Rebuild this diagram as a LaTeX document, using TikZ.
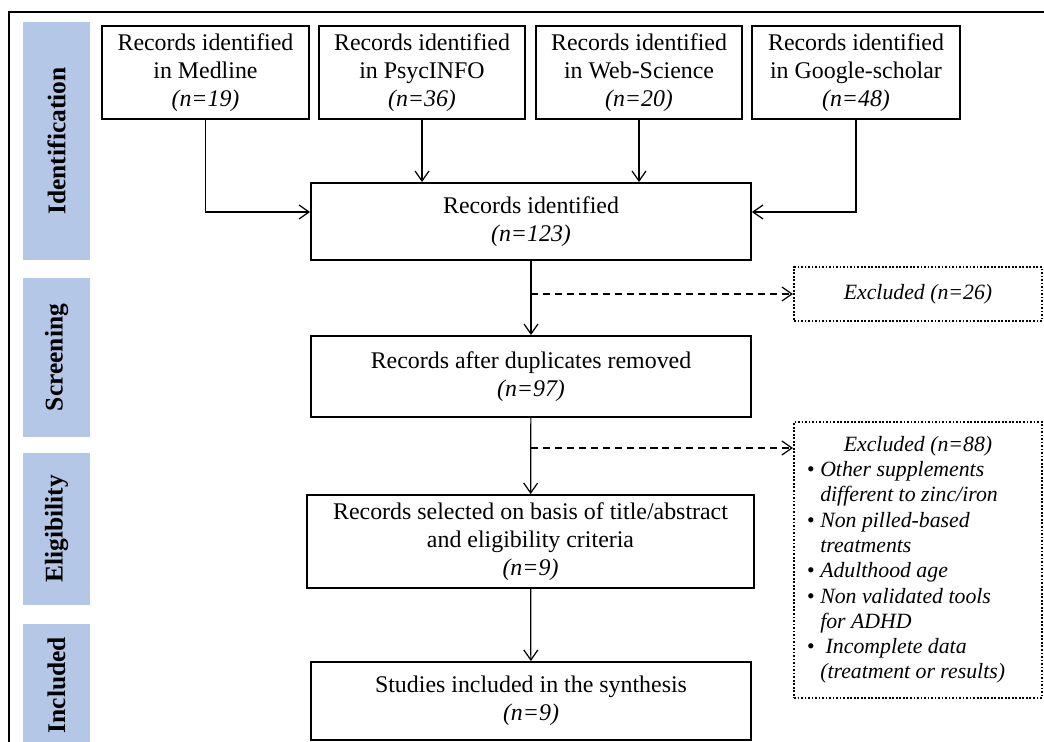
\documentclass[tikz,border=0pt]{standalone}
\usepackage{fontspec}
\setmainfont{Liberation Serif}
\usetikzlibrary{positioning,arrows.meta}

\definecolor{phasebar}{HTML}{B4C7E7}
\newcommand{\mainsize}{\fontsize{13.6}{16}\selectfont}
\newcommand{\exsize}{\fontsize{12.4}{14.4}\selectfont}
\newcommand{\nval}[1]{\textit{(n=#1)}}

\tikzset{
	stagebox/.style={draw, line width=1.1pt, inner sep=0pt, align=center, font=\mainsize},
	exbox/.style={draw, line width=1.2pt, dash pattern=on 1pt off 1pt, inner sep=0pt},
	phase/.style={fill=phasebar, rotate=90, inner sep=0pt, minimum height=1.34cm, font=\bfseries\fontsize{14.5}{16}\selectfont},
	flow/.style={->, line width=0.7pt},
	skip/.style={->, line width=0.7pt, dash pattern=on 4pt off 2.8pt},
}

\begin{document}
\begin{tikzpicture}[x=0.02cm, y=-0.02cm, >={Straight Barb[length=2mm,width=2.8mm]}]

	\clip (0,0) rectangle (1044,742);
	\fill [white] (0,0) rectangle (1044,742);
	% outer frame
	\draw [line width=0.7pt] (9,12) rectangle (1100,800);

	% stages
	\node [phase, minimum width=4.76cm] (idbar) at (56.5,141) {Identification};
	\node [phase, minimum width=3.18cm] (scbar) at (56.5,357.5) {Screening};
	\node [phase, minimum width=3.04cm] (elbar) at (56.5,529) {Eligibility};
	\node [phase, minimum width=2.44cm] (inbar) at (56.5,685) {Included};

	% databases
	\node [stagebox, minimum width=4.14cm, minimum height=1.86cm] (medline) at (205.5,72.5) {Records identified\\in Medline\\\nval{19}};
	\node [stagebox, minimum width=4.12cm, minimum height=1.86cm] (psycinfo) at (422,72.5) {Records identified\\in PsycINFO\\\nval{36}};
	\node [stagebox, minimum width=4.12cm, minimum height=1.86cm] (websci) at (639,72.5) {Records identified\\in Web-Science\\\nval{20}};
	\node [stagebox, minimum width=4.16cm, minimum height=1.86cm] (scholar) at (856,72.5) {Records identified\\in Google-scholar\\\nval{48}};

	% main column
	\node [stagebox, minimum width=8.8cm, minimum height=1.54cm] (recid) at (531,221.5) {Records identified\\\nval{123}};
	\node [stagebox, minimum width=8.8cm, minimum height=1.62cm] (dedup) at (531,376.5) {Records after duplicates removed\\\nval{97}};
	\node [stagebox, minimum width=8.94cm, minimum height=1.86cm] (select) at (530.5,541.5) {Records selected on basis of title/abstract\\and eligibility criteria\\\nval{9}};
	\node [stagebox, minimum width=8.8cm, minimum height=1.56cm] (synth) at (531,701) {Studies included in the synthesis\\\nval{9}};

	% exclusions
	\node [exbox, minimum width=4.96cm, minimum height=1.08cm, font=\exsize\itshape] (excl1) at (918,294) {Excluded \nval{26}};
	\node [exbox, minimum width=4.96cm, minimum height=5.52cm, font=\exsize\itshape] (excl2) at (918,560) {%
		\begin{tabular}{@{}p{0.27cm}@{}p{4.18cm}@{}}
			\multicolumn{2}{c}{Excluded \nval{88}}\\
			\textbullet & Other supplements\\
			& different to zinc/iron\\
			\textbullet & Non pilled-based\\
			& treatments\\
			\textbullet & Adulthood age\\
			\textbullet & Non validated tools\\
			& for ADHD\\
			\textbullet & \ Incomplete data\\
			& (treatment or results)
		\end{tabular}};

	% arrows
	\draw [flow] (medline.south) |- ([yshift=0.19cm]recid.west);
	\draw [flow] (psycinfo.south) -- (psycinfo.south |- recid.north);
	\draw [flow] (websci.south) -- (websci.south |- recid.north);
	\draw [flow] (scholar.south) |- ([yshift=0.19cm]recid.east);
	\draw [flow] (recid) -- (dedup);
	\draw [flow] (dedup) -- (select);
	\draw [flow] (select) -- (synth);
	\coordinate (split2) at (531,448);
	\draw [skip] (recid.south |- excl1.west) -- (excl1.west);
	\draw [skip] (split2) -- (split2 -| excl2.west);

\end{tikzpicture}
\end{document}
